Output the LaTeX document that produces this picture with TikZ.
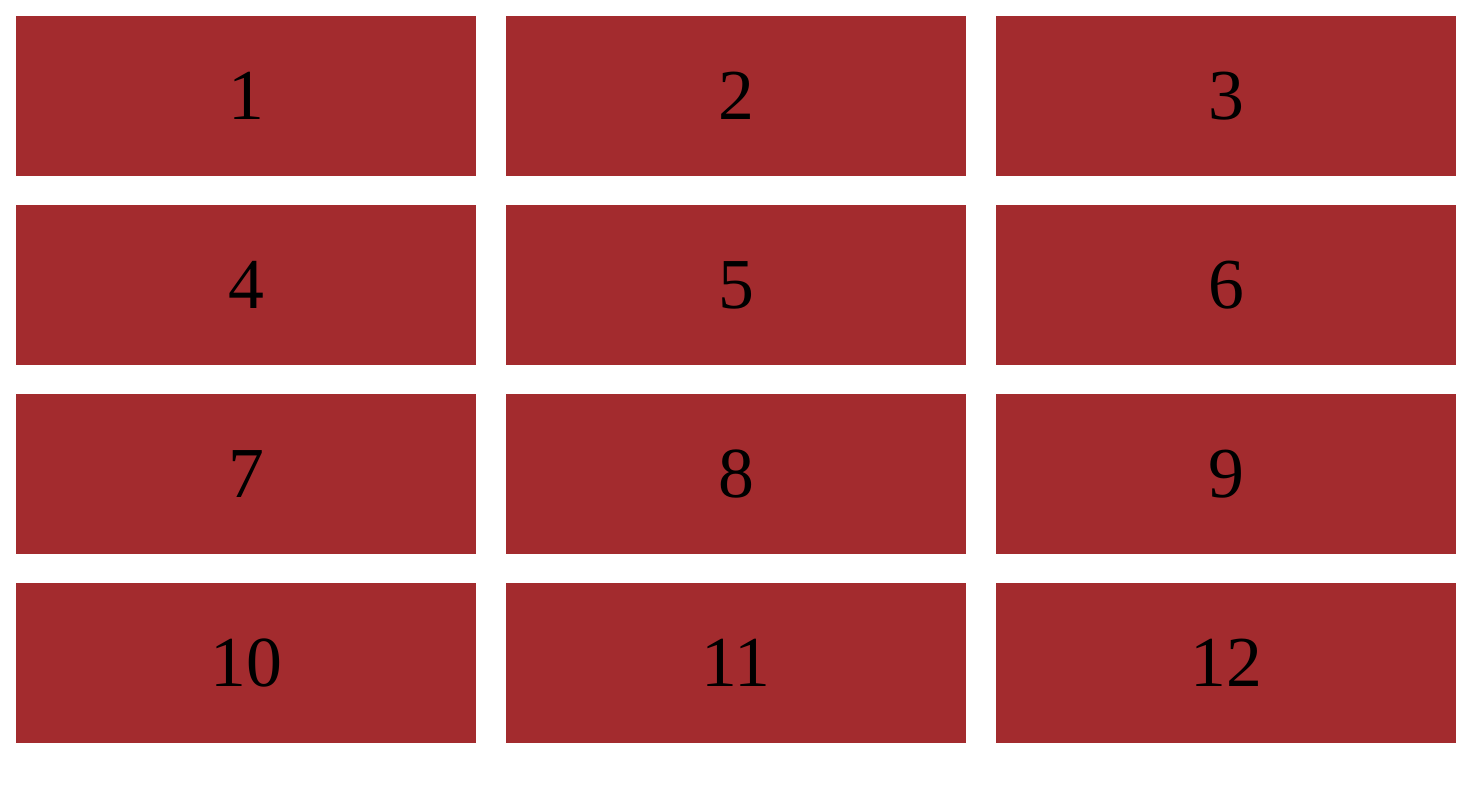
\documentclass[tikz,border=0pt]{standalone}
\usepackage{fontspec}
\setmainfont{Liberation Serif}
\definecolor{brick}{HTML}{A32B2E}
\begin{document}
\begin{tikzpicture}[x=0.02cm, y=-0.02cm, cell/.style = {fill=brick, minimum width=9.2cm, minimum height=3.2cm, inner sep=0pt, align=center, font=\fontsize{40.8}{48}\selectfont}]
        \useasboundingbox (0, 0) rectangle (1470, 800);

        \node[cell] (c1) at (246, 96) {1};
        \node[cell] (c2) at (736, 96) {2};
        \node[cell] (c3) at (1226, 96) {3};
        \node[cell] (c4) at (246, 285) {4};
        \node[cell] (c5) at (736, 285) {5};
        \node[cell] (c6) at (1226, 285) {6};
        \node[cell] (c7) at (246, 474) {7};
        \node[cell] (c8) at (736, 474) {8};
        \node[cell] (c9) at (1226, 474) {9};
        \node[cell] (c10) at (246, 663) {10};
        \node[cell] (c11) at (736, 663) {11};
        \node[cell] (c12) at (1226, 663) {12};
    \end{tikzpicture}
\end{document}
